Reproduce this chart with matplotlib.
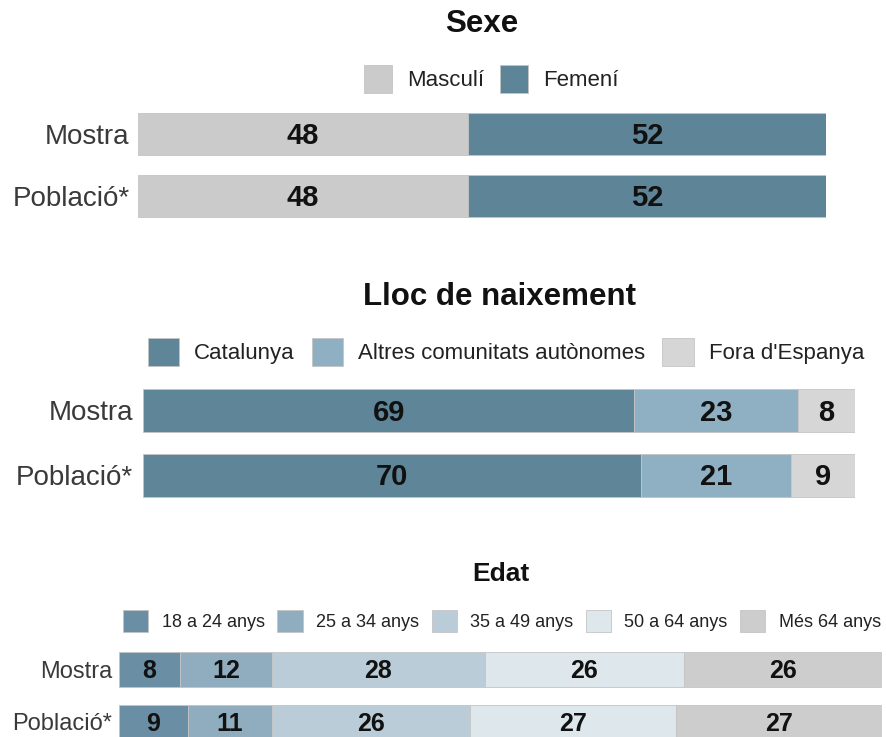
import matplotlib
matplotlib.use("Agg")
import matplotlib.pyplot as plt

W, H = 887, 737
plt.rcParams['font.family'] = ["Liberation Sans", 'DejaVu Sans']

rows = ["Mostra", "Població*"]

# Panel 1: Sexe
sexe_cats = ["Masculí", "Femení"]
sexe_vals = {"Masculí": [48, 48], "Femení": [52, 52]}
sexe_cols = ["#cbcbcb", "#5e8497"]

# Panel 2: Lloc de naixement
lloc_cats = ["Catalunya", "Altres comunitats autònomes", "Fora d'Espanya"]
lloc_vals = {"Catalunya": [69, 70], "Altres comunitats autònomes": [23, 21], "Fora d'Espanya": [8, 9]}
lloc_cols = ["#5f8599", "#8fafc2", "#d6d6d6"]

# Panel 3: Edat
edat_cats = ["18 a 24 anys", "25 a 34 anys", "35 a 49 anys", "50 a 64 anys", "Més 64 anys"]
edat_vals = {"18 a 24 anys": [8, 9], "25 a 34 anys": [12, 11], "35 a 49 anys": [28, 26],
             "50 a 64 anys": [26, 27], "Més 64 anys": [26, 27]}
edat_cols = ["#6a8ea4", "#90adc0", "#b9ccd8", "#dde7ec", "#cdcdcd"]

fig = plt.figure(figsize=(W / 100, H / 100), dpi=100)


def px_axes(x0, x1, ytop, ybot):
    return fig.add_axes([x0 / W, 1 - ybot / H, (x1 - x0) / W, (ybot - ytop) / H])


def panel(cats, vals, cols, x0, x1, c0, c1, bar_h, title, ty, tx, tsize, lab_size,
          num_size, ypad, leg_y, leg_x, leg_size, hl, hh, htp, csp):
    sp = c1 - c0
    ax = px_axes(x0, x1, c0 - sp / 2, c1 + sp / 2)
    left = [0, 0]
    handles = []
    for cat, col in zip(cats, cols):
        v = vals[cat]
        b = ax.barh(range(len(rows)), v, left=left, height=bar_h / sp, color=col,
                    edgecolor="#c4c4c4", linewidth=0.6, label=cat)
        handles.append(b)
        for i, (l, val) in enumerate(zip(left, v)):
            ax.annotate(str(val), xy=(l + val / 2, i), xytext=(0, -0.358 * num_size),
                        textcoords="offset points", ha="center", va="baseline",
                        fontsize=num_size, fontweight="bold", color="#111111")
        left = [a + b_ for a, b_ in zip(left, v)]
    ax.set_xlim(0, 100)
    ax.set_ylim(len(rows) - 0.5, -0.5)
    ax.set_yticks(range(len(rows)))
    ax.set_yticklabels(rows, fontsize=lab_size, color="#3a3a3a")
    ax.tick_params(axis="y", length=0, pad=ypad)
    ax.set_xticks([])
    for s in ax.spines.values():
        s.set_visible(False)
    fig.text(tx / W, 1 - ty / H, title, ha="center", va="center",
             fontsize=tsize, fontweight="bold", color="#111111")
    fig.legend(handles=handles, labels=cats, loc="center",
               bbox_to_anchor=(leg_x / W, 1 - leg_y / H), ncol=len(cats),
               frameon=False, fontsize=leg_size, handlelength=hl, handleheight=hh,
               handletextpad=htp, columnspacing=csp, borderpad=0, labelcolor="#222222")
    return ax


panel(sexe_cats, sexe_vals, sexe_cols, 138, 826, 134, 196, 42, "Sexe", 24, 482, 22.5, 20,
      21, 6, 79, 491, 16, 1.26, 1.57, 0.68, 0.72)
panel(lloc_cats, lloc_vals, lloc_cols, 143, 855, 410.5, 475, 43, "Lloc de naixement", 297,
      500, 22.5, 20, 21, 7, 352, 506, 16, 1.4, 1.57, 0.68, 0.77)
panel(edat_cats, edat_vals, edat_cols, 119, 882, 669.5, 722, 35, "Edat", 574, 501, 19, 17,
      18, 5, 621, 502, 13, 1.39, 1.54, 0.74, 0.7)

fig.savefig("out.png", dpi=100)
